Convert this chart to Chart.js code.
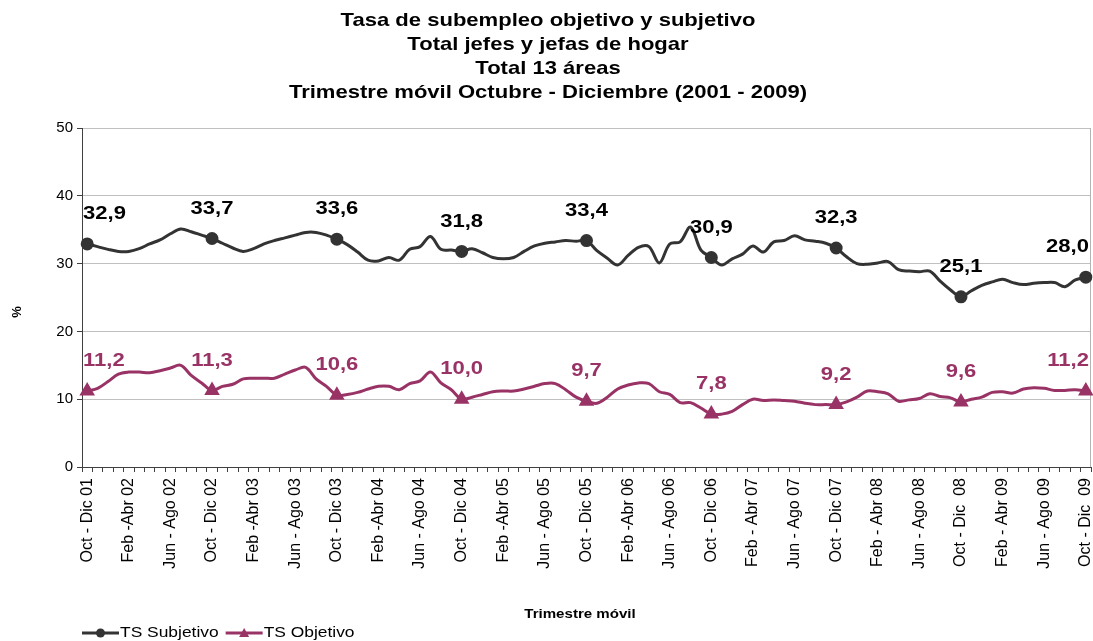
<!DOCTYPE html>
<html><head><meta charset="utf-8">
<script src="https://cdn.jsdelivr.net/npm/chart.js@4.4.1/dist/chart.umd.min.js"></script>
<style>html,body{margin:0;padding:0;background:#fff;} #wrap{width:1093px;height:641px;}</style>
</head><body><div id="wrap"><canvas id="c" width="1093" height="641"></canvas></div>
<script>
const titleLines = [
  'Tasa de subempleo objetivo y subjetivo',
  'Total jefes y jefas de hogar',
  'Total 13 áreas',
  'Trimestre móvil Octubre - Diciembre (2001 - 2009)'
];
const tickLabels = [
  'Oct - Dic 01','Feb -Abr 02','Jun - Ago 02','Oct - Dic 02','Feb -Abr 03','Jun - Ago 03',
  'Oct - Dic 03','Feb -Abr 04','Jun - Ago 04','Oct - Dic 04','Feb -Abr 05','Jun - Ago 05',
  'Oct - Dic 05','Feb -Abr 06','Jun - Ago 06','Oct - Dic 06','Feb - Abr 07','Jun - Ago 07',
  'Oct - Dic 07','Feb - Abr 08','Jun - Ago 08','Oct - Dic  08','Feb - Abr 09','Jun - Ago 09',
  'Oct - Dic  09'
];
const quarterNames = ['Oct - Dic','Nov - Ene','Dic - Feb','Ene - Mar','Feb - Abr','Mar - May',
  'Abr - Jun','May - Jul','Jun - Ago','Jul - Sep','Ago - Oct','Sep - Nov'];
const categories = [];
for (let i = 0; i <= 96; i++) {
  const y2 = (i % 12 === 0) ? 1 + i / 12 : 2 + Math.floor((i - 1) / 12);
  categories.push(quarterNames[i % 12] + ' ' + String(y2).padStart(2, '0'));
}
const subjetivo = [
  32.9,32.5,32.1,31.8,31.8,32.2,32.9,33.5,34.4,35.1,34.7,34.2,
  33.7,33.0,32.3,31.8,32.2,32.9,33.4,33.8,34.2,34.6,34.6,34.2,
  33.6,32.8,31.7,30.5,30.4,30.9,30.5,32.1,32.5,34.0,32.1,32.0,
  31.8,32.2,31.6,30.9,30.7,30.9,31.8,32.6,33.0,33.2,33.4,33.3,
  33.4,31.9,30.8,29.8,31.2,32.4,32.5,30.1,32.9,33.2,35.4,32.0,
  30.9,29.8,30.7,31.4,32.6,31.7,33.2,33.4,34.1,33.5,33.3,33.0,
  32.3,31.0,30.0,29.9,30.1,30.3,29.1,28.9,28.8,28.9,27.4,26.1,
  25.1,26.0,26.8,27.3,27.7,27.2,26.9,27.1,27.2,27.2,26.6,27.6,
  28.0
];
const objetivo = [
  11.2,11.6,12.6,13.7,14.0,14.0,13.9,14.2,14.6,15.0,13.5,12.4,
  11.3,11.9,12.2,13.0,13.1,13.1,13.1,13.7,14.3,14.7,13.0,11.9,
  10.6,10.7,11.0,11.5,11.9,11.9,11.4,12.3,12.7,14.0,12.4,11.4,
  10.0,10.3,10.7,11.1,11.2,11.2,11.5,11.9,12.3,12.3,11.4,10.3,
  9.7,9.4,10.3,11.5,12.1,12.4,12.3,11.1,10.7,9.5,9.5,8.7,
  7.8,7.8,8.2,9.2,10.0,9.8,9.9,9.8,9.7,9.4,9.2,9.2,
  9.2,9.6,10.3,11.2,11.1,10.8,9.7,9.9,10.1,10.8,10.4,10.2,
  9.6,10.0,10.3,11.0,11.1,10.9,11.5,11.7,11.6,11.3,11.3,11.4,
  11.2
];
const seriesNames = ['TS Subjetivo', 'TS Objetivo'];

const FONT = '"Liberation Sans", Arial, Helvetica, sans-serif';
const SX = 1.16;
const C_SUB = '#333333', C_OBJ = '#993366';

function sText(ctx, t, x, y, font, color, align, sx) {
  ctx.save();
  ctx.font = font; ctx.fillStyle = color; ctx.textBaseline = 'middle';
  ctx.translate(x, y); ctx.scale(sx, 1); ctx.textAlign = align;
  ctx.fillText(t, 0, 0);
  ctx.restore();
}

const decor = {
  id: 'decor',
  beforeDatasetsDraw(chart) {
    const ctx = chart.ctx, a = chart.chartArea;
    ctx.save();
    ctx.strokeStyle = '#b4b4b4'; ctx.lineWidth = 1;
    ctx.beginPath(); ctx.moveTo(a.right - 0.5, a.top); ctx.lineTo(a.right - 0.5, a.bottom); ctx.stroke();
    ctx.restore();
  },
  afterDatasetsDraw(chart) {
    const ctx = chart.ctx, a = chart.chartArea;
    chart.data.datasets.forEach((ds, di) => {
      const meta = chart.getDatasetMeta(di);
      meta.data.forEach((pt, i) => {
        if (i % 12 !== 0) return;
        const txt = ds.data[i].toFixed(1).replace('.', ',');
        const font = 'bold 19px ' + FONT;
        ctx.font = font;
        const w = ctx.measureText(txt).width * SX;
        let x = Math.max(a.left + 1 + w / 2, Math.min(a.right - 2 - w / 2, pt.x));
        sText(ctx, txt, x, pt.y - 30, font, ds.labelColor, 'center', SX);
      });
    });
  },
  afterDraw(chart) {
    const ctx = chart.ctx;
    titleLines.forEach((t, i) => sText(ctx, t, 548, 21 + i * 24, 'bold 19px ' + FONT, '#000', 'center', SX));
    ctx.save();
    ctx.translate(17, 312); ctx.rotate(-Math.PI / 2);
    ctx.font = 'bold 13px ' + FONT; ctx.fillStyle = '#000'; ctx.textAlign = 'center'; ctx.textBaseline = 'middle';
    ctx.fillText('%', 0, 0);
    ctx.restore();
    sText(ctx, 'Trimestre móvil', 580, 614, 'bold 13px ' + FONT, '#000', 'center', SX);
    let x = 82; const y = 633;
    const lf = '15px ' + FONT;
    chart.data.datasets.forEach((ds, di) => {
      ctx.save();
      ctx.strokeStyle = ds.borderColor; ctx.lineWidth = 3;
      ctx.beginPath(); ctx.moveTo(x, y); ctx.lineTo(x + 37, y); ctx.stroke();
      ctx.fillStyle = ds.borderColor;
      const cx = x + 18.5;
      if (di === 0) { ctx.beginPath(); ctx.arc(cx, y, 4.5, 0, Math.PI * 2); ctx.fill(); }
      else { ctx.beginPath(); ctx.moveTo(cx, y - 5); ctx.lineTo(cx + 5, y + 4); ctx.lineTo(cx - 5, y + 4); ctx.closePath(); ctx.fill(); }
      ctx.restore();
      ctx.font = lf;
      const w = ctx.measureText(ds.label).width * SX;
      sText(ctx, ds.label, x + 38, y, lf, '#000', 'left', SX);
      x = x + 38 + w + 7;
    });
  }
};

const zeroPad = () => ({ left: 0, right: 0, top: 0, bottom: 0 });

new Chart(document.getElementById('c'), {
  type: 'line',
  data: {
    labels: categories,
    datasets: [
      { label: seriesNames[0], data: subjetivo, borderColor: C_SUB, backgroundColor: C_SUB,
        pointBackgroundColor: C_SUB, pointBorderColor: C_SUB, labelColor: '#000',
        borderWidth: 3, tension: 0.35, pointStyle: 'circle',
        pointRadius: c => c.dataIndex % 12 === 0 ? 5 : 0 },
      { label: seriesNames[1], data: objetivo, borderColor: C_OBJ, backgroundColor: C_OBJ,
        pointBackgroundColor: C_OBJ, pointBorderColor: C_OBJ, labelColor: C_OBJ,
        borderWidth: 3, tension: 0.35, pointStyle: 'triangle',
        pointRadius: c => c.dataIndex % 12 === 0 ? 6 : 0 }
    ]
  },
  options: {
    responsive: false, animation: false,
    layout: { autoPadding: false, padding: { left: 0, right: 2, top: 128, bottom: 0 } },
    plugins: { legend: { display: false }, title: { display: false }, tooltip: { enabled: false } },
    scales: {
      x: {
        type: 'category', offset: true,
        afterFit: s => { s.height = 174; s.paddingLeft = 0; s.paddingRight = 0; s.getPadding = zeroPad; },
        grid: { offset: true, drawOnChartArea: false, drawTicks: true, tickLength: 5, color: '#404040' },
        border: { display: true, color: '#404040', width: 1 },
        ticks: { autoSkip: false, maxRotation: 90, minRotation: 90, padding: 6, color: '#000',
          font: { family: FONT, size: 16 },
          callback: (v, i) => i % 4 === 0 ? tickLabels[i / 4] : '' }
      },
      y: {
        min: 0, max: 50,
        afterFit: s => { s.width = 82; s.paddingTop = 0; s.paddingBottom = 0; s.getPadding = zeroPad; },
        grid: { color: '#c0c0c0', tickColor: '#404040', tickLength: 5, drawTicks: true },
        border: { display: true, color: '#404040', width: 1 },
        ticks: { stepSize: 10, padding: 4, color: '#000', font: { family: FONT, size: 15 } }
      }
    }
  },
  plugins: [decor]
});
</script></body></html>
